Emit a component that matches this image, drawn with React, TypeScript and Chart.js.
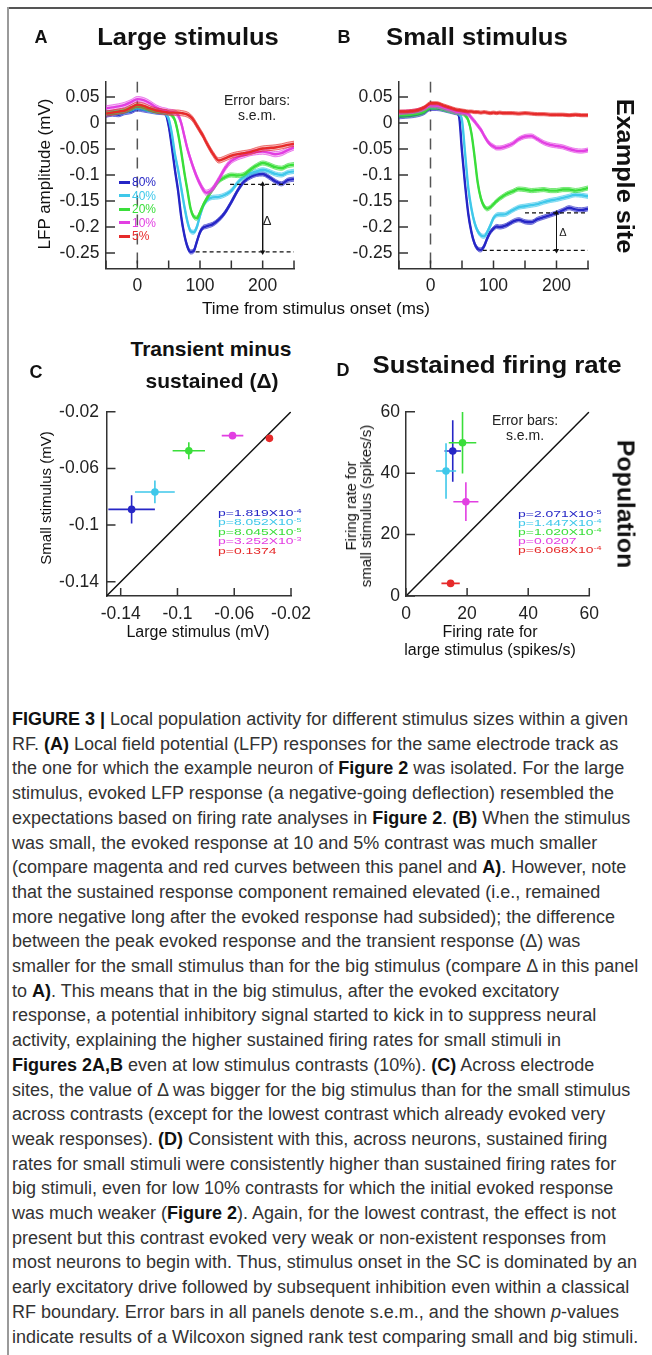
import React, { useEffect, useRef } from 'react';
import { Chart, registerables } from 'chart.js';

Chart.register(...registerables);

// ---------------- data ----------------
const TIME_MS = [-50, -40, -30, -20, -10, 0, 10, 20, 30, 40, 45, 50, 55, 60, 65, 70, 75, 80, 85, 90, 95, 100, 105, 110, 115, 120, 130, 140, 150, 160, 170, 180, 190, 200, 210, 220, 230, 240, 250];
const TIME_TICKS = [-50, 0, 50, 100, 150, 200, 250];
const TIME_LABELS = [0, 100, 200];
const LFP_TICKS = [0.05, 0, -0.05, -0.1, -0.15, -0.2, -0.25];

const CONTRASTS = ['80%', '40%', '20%', '10%', '5%'];
const COLORS = ['#2626c6', '#3fc8ea', '#3ade3a', '#e23fe2', '#e62a2a'];

// Large stimulus LFP (mV)
const LARGE_80 = [0.015, 0.017, 0.016, 0.02, 0.022, 0.027, 0.025, 0.023, 0.021, 0.02, 0.018, -0.005, -0.045, -0.09, -0.13, -0.18, -0.215, -0.238, -0.248, -0.246, -0.228, -0.21, -0.201, -0.199, -0.197, -0.195, -0.186, -0.172, -0.152, -0.13, -0.113, -0.104, -0.099, -0.098, -0.104, -0.112, -0.117, -0.11, -0.108];
const LARGE_40 = [0.018, 0.02, 0.02, 0.022, 0.026, 0.03, 0.028, 0.025, 0.022, 0.021, 0.018, 0.008, -0.02, -0.06, -0.09, -0.125, -0.16, -0.19, -0.208, -0.21, -0.2, -0.178, -0.16, -0.15, -0.145, -0.143, -0.142, -0.138, -0.13, -0.115, -0.104, -0.097, -0.093, -0.09, -0.093, -0.098, -0.1, -0.095, -0.093];
const LARGE_20 = [0.02, 0.02, 0.022, 0.024, 0.028, 0.033, 0.03, 0.026, 0.023, 0.022, 0.021, 0.02, 0.015, 0.005, -0.02, -0.055, -0.095, -0.13, -0.165, -0.18, -0.183, -0.172, -0.158, -0.147, -0.137, -0.128, -0.112, -0.104, -0.1, -0.101, -0.099, -0.09, -0.082, -0.077, -0.08, -0.085, -0.087, -0.082, -0.08];
const LARGE_10 = [0.028, 0.03, 0.032, 0.035, 0.04, 0.046, 0.044, 0.038, 0.03, 0.025, 0.024, 0.022, 0.021, 0.02, 0.015, 0.0, -0.025, -0.05, -0.07, -0.088, -0.104, -0.117, -0.128, -0.134, -0.132, -0.127, -0.108, -0.087, -0.073, -0.066, -0.062, -0.058, -0.056, -0.055, -0.057, -0.06, -0.058, -0.052, -0.047];
const LARGE_5 = [0.018, 0.02, 0.022, 0.024, 0.03, 0.035, 0.033, 0.028, 0.024, 0.022, 0.021, 0.02, 0.02, 0.02, 0.02, 0.019, 0.018, 0.016, 0.012, 0.005, -0.005, -0.015, -0.025, -0.037, -0.048, -0.058, -0.072, -0.068, -0.063, -0.06, -0.058, -0.056, -0.052, -0.049, -0.048, -0.047, -0.045, -0.042, -0.04];

// Small stimulus LFP (mV)
const SMALL_80 = [0.012, 0.013, 0.014, 0.016, 0.02, 0.028, 0.028, 0.026, 0.023, 0.02, 0.015, -0.055, -0.12, -0.175, -0.21, -0.232, -0.242, -0.244, -0.237, -0.222, -0.21, -0.203, -0.199, -0.2, -0.199, -0.197, -0.19, -0.186, -0.19, -0.191, -0.185, -0.181, -0.177, -0.173, -0.168, -0.163, -0.166, -0.167, -0.165];
const SMALL_40 = [0.02, 0.02, 0.02, 0.022, 0.026, 0.032, 0.032, 0.029, 0.025, 0.022, 0.018, 0.005, -0.06, -0.125, -0.165, -0.192, -0.208, -0.216, -0.218, -0.21, -0.197, -0.183, -0.177, -0.176, -0.176, -0.175, -0.168, -0.162, -0.16, -0.158, -0.156, -0.152, -0.149, -0.147, -0.144, -0.141, -0.138, -0.139, -0.141];
const SMALL_20 = [0.015, 0.015, 0.016, 0.018, 0.022, 0.03, 0.03, 0.027, 0.024, 0.021, 0.02, 0.019, 0.015, 0.005, -0.02, -0.065, -0.115, -0.145, -0.16, -0.165, -0.162, -0.156, -0.15, -0.145, -0.141, -0.137, -0.132, -0.127, -0.128, -0.13, -0.129, -0.128, -0.13, -0.13, -0.128, -0.128, -0.13, -0.128, -0.125];
const SMALL_10 = [0.02, 0.021, 0.022, 0.024, 0.028, 0.034, 0.033, 0.03, 0.026, 0.022, 0.021, 0.02, 0.019, 0.017, 0.01, 0.003, -0.005, -0.013, -0.024, -0.034, -0.041, -0.045, -0.048, -0.048, -0.047, -0.045, -0.04, -0.031, -0.026, -0.025, -0.031, -0.038, -0.042, -0.044, -0.046, -0.05, -0.053, -0.054, -0.052];
const SMALL_5 = [0.022, 0.022, 0.023, 0.025, 0.03, 0.038, 0.038, 0.034, 0.03, 0.026, 0.025, 0.024, 0.023, 0.022, 0.022, 0.021, 0.021, 0.02, 0.021, 0.02, 0.019, 0.02, 0.019, 0.02, 0.019, 0.019, 0.019, 0.018, 0.019, 0.018, 0.017, 0.017, 0.016, 0.016, 0.016, 0.015, 0.016, 0.015, 0.015];

const LARGE_CURVES = [LARGE_80, LARGE_40, LARGE_20, LARGE_10, LARGE_5];
const SMALL_CURVES = [SMALL_80, SMALL_40, SMALL_20, SMALL_10, SMALL_5];
const LARGE_SEM = [0.004, 0.004, 0.004, 0.005, 0.005];
const SMALL_SEM = [0.004, 0.004, 0.004, 0.004, 0.003];

// Delta annotation
const DELTA_TIME = 200;
const LARGE_PEAK = -0.248;
const LARGE_SUSTAINED = -0.118;
const LARGE_PEAK_FROM = 93;
const LARGE_SUSTAINED_FROM = 148;
const SMALL_PEAK = -0.245;
const SMALL_SUSTAINED = -0.173;
const SMALL_PEAK_FROM = 83;
const SMALL_SUSTAINED_FROM = 150;

// Panel C: transient minus sustained (mV)
const DELTA_LARGE = [-0.1323, -0.1159, -0.092, -0.0612, -0.0352];
const DELTA_SMALL = [-0.0889, -0.0766, -0.0475, -0.0369, -0.0388];
const DELTA_LARGE_ERR = [0.0164, 0.014, 0.0114, 0.0076, 0.002];
const DELTA_SMALL_ERR = [0.01, 0.008, 0.006, 0.0015, 0.001];
const DELTA_TICKS = [-0.14, -0.1, -0.06, -0.02];
const P_DELTA = [['1.819X10', '-4'], ['8.052X10', '-5'], ['8.045X10', '-5'], ['3.252X10', '-3'], ['0.1374', '']];

// Panel D: sustained firing rate (spikes/s)
const RATE_LARGE = [15.3, 13.1, 18.5, 19.6, 14.6];
const RATE_SMALL = [47.2, 40.7, 49.9, 30.7, 4.1];
const RATE_LARGE_ERR = [2.7, 3.3, 4.5, 4.1, 3.0];
const RATE_SMALL_ERR = [10, 9, 10, 6.3, 0.8];
const RATE_TICKS = [0, 20, 40, 60];
const P_RATE = [['2.071X10', '-5'], ['1.447X10', '-4'], ['1.020X10', '-4'], ['0.0207', ''], ['6.068X10', '-4']];

// Caption
const CAPTION: [string, string][][] = [
  [['FIGURE 3 |', 'b'], [' Local population activity for different stimulus sizes within a given', '']],
  [['RF. ', ''], ['(A)', 'b'], [' Local field potential (LFP) responses for the same electrode track as', '']],
  [['the one for which the example neuron of ', ''], ['Figure 2', 'b'], [' was isolated. For the large', '']],
  [['stimulus, evoked LFP response (a negative-going deflection) resembled the', '']],
  [['expectations based on firing rate analyses in ', ''], ['Figure 2', 'b'], ['. ', ''], ['(B)', 'b'], [' When the stimulus', '']],
  [['was small, the evoked response at 10 and 5% contrast was much smaller', '']],
  [['(compare magenta and red curves between this panel and ', ''], ['A)', 'b'], ['. However, note', '']],
  [['that the sustained response component remained elevated (i.e., remained', '']],
  [['more negative long after the evoked response had subsided); the difference', '']],
  [['between the peak evoked response and the transient response (\u0394) was', '']],
  [['smaller for the small stimulus than for the big stimulus (compare \u0394 in this panel', '']],
  [['to ', ''], ['A)', 'b'], ['. This means that in the big stimulus, after the evoked excitatory', '']],
  [['response, a potential inhibitory signal started to kick in to suppress neural', '']],
  [['activity, explaining the higher sustained firing rates for small stimuli in', '']],
  [['Figures 2A,B', 'b'], [' even at low stimulus contrasts (10%). ', ''], ['(C)', 'b'], [' Across electrode', '']],
  [['sites, the value of \u0394 was bigger for the big stimulus than for the small stimulus', '']],
  [['across contrasts (except for the lowest contrast which already evoked very', '']],
  [['weak responses). ', ''], ['(D)', 'b'], [' Consistent with this, across neurons, sustained firing', '']],
  [['rates for small stimuli were consistently higher than sustained firing rates for', '']],
  [['big stimuli, even for low 10% contrasts for which the initial evoked response', '']],
  [['was much weaker (', ''], ['Figure 2', 'b'], ['). Again, for the lowest contrast, the effect is not', '']],
  [['present but this contrast evoked very weak or non-existent responses from', '']],
  [['most neurons to begin with. Thus, stimulus onset in the SC is dominated by an', '']],
  [['early excitatory drive followed by subsequent inhibition even within a classical', '']],
  [['RF boundary. Error bars in all panels denote s.e.m., and the shown ', ''], ['p', 'i'], ['-values', '']],
  [['indicate results of a Wilcoxon signed rank test comparing small and big stimuli.', '']],
];

// ---------------- helpers ----------------
const FONT = '"Liberation Sans", Arial, Helvetica, sans-serif';
const TICK_FONT = { family: FONT, size: 17.5 };
const AXIS_COLOR = '#333';

function hexA(hex: string, a: number) {
  const n = parseInt(hex.slice(1), 16);
  return `rgba(${(n >> 16) & 255},${(n >> 8) & 255},${n & 255},${a})`;
}

type Rect = { left: number; top: number; width: number; height: number };
type Plot = { l: number; t: number; r: number; b: number };

function geom(c: Rect, p: Plot) {
  return {
    padding: { left: 0, top: p.t - c.top, right: c.left + c.width - p.r, bottom: 0 },
    yWidth: p.l - c.left,
    xHeight: c.top + c.height - p.b,
  };
}

const inwardTicks = {
  id: 'inwardTicks',
  afterDraw(chart: any) {
    const { ctx, chartArea } = chart;
    const sx = chart.scales.x;
    const sy = chart.scales.y;
    ctx.save();
    ctx.strokeStyle = AXIS_COLOR;
    ctx.lineWidth = 1.5;
    ctx.beginPath();
    sx.ticks.forEach((t: any) => {
      const px = sx.getPixelForValue(t.value);
      ctx.moveTo(px, chartArea.bottom);
      ctx.lineTo(px, chartArea.bottom - 8);
    });
    sy.ticks.forEach((t: any) => {
      const py = sy.getPixelForValue(t.value);
      ctx.moveTo(chartArea.left, py);
      ctx.lineTo(chartArea.left + 9, py);
    });
    ctx.stroke();
    ctx.restore();
  },
};

function errorBars(xs: number[], ys: number[], xe: number[], ye: number[]) {
  return {
    id: 'errorBars',
    beforeDatasetsDraw(chart: any) {
      const { ctx } = chart;
      const sx = chart.scales.x;
      const sy = chart.scales.y;
      ctx.save();
      ctx.lineWidth = 1.6;
      xs.forEach((x, i) => {
        ctx.strokeStyle = COLORS[i];
        ctx.beginPath();
        ctx.moveTo(sx.getPixelForValue(x - xe[i]), sy.getPixelForValue(ys[i]));
        ctx.lineTo(sx.getPixelForValue(x + xe[i]), sy.getPixelForValue(ys[i]));
        ctx.moveTo(sx.getPixelForValue(x), sy.getPixelForValue(ys[i] - ye[i]));
        ctx.lineTo(sx.getPixelForValue(x), sy.getPixelForValue(ys[i] + ye[i]));
        ctx.stroke();
      });
      ctx.restore();
    },
  };
}

function axis(min: number, max: number, ticks: number[], label: (v: number) => string, pad: number, fit: (s: any) => void) {
  return {
    type: 'linear',
    min,
    max,
    afterBuildTicks: (s: any) => {
      s.ticks = ticks.map((v) => ({ value: v }));
    },
    afterFit: fit,
    ticks: { callback: (v: any) => label(Number(v)), autoSkip: false, maxRotation: 0, padding: pad, font: TICK_FONT, color: '#222' },
    grid: { display: false, drawTicks: false },
    border: { display: true, color: AXIS_COLOR, width: 1.5 },
  };
}

function lfpConfig(curves: number[][], sems: number[], peak: number, peakFrom: number, sust: number, sustFrom: number, g: any) {
  const datasets: any[] = [];
  datasets.push({
    data: [{ x: DELTA_TIME, y: sust }, { x: DELTA_TIME, y: peak }],
    borderColor: '#111', borderWidth: 1, pointRadius: 3, pointStyle: 'triangle',
    pointRotation: (c: any) => (c.dataIndex === 0 ? 0 : 180),
    pointBackgroundColor: '#111', pointBorderWidth: 0,
  });
  datasets.push({ data: [{ x: peakFrom, y: peak }, { x: 250, y: peak }], borderColor: '#111', borderWidth: 1.2, borderDash: [4, 3], pointRadius: 0 });
  datasets.push({ data: [{ x: sustFrom, y: sust }, { x: 250, y: sust }], borderColor: '#111', borderWidth: 1.2, borderDash: [4, 3], pointRadius: 0 });
  for (let i = 4; i >= 0; i--) {
    const c = COLORS[i];
    const ys = curves[i];
    const s = sems[i];
    const common = { pointRadius: 0, cubicInterpolationMode: 'monotone' };
    datasets.push({ ...common, data: TIME_MS.map((t, k) => ({ x: t, y: ys[k] })), borderColor: c, borderWidth: 2.4 });
    datasets.push({ ...common, data: TIME_MS.map((t, k) => ({ x: t, y: ys[k] + s })), borderColor: hexA(c, 0.8), borderWidth: 0.8, fill: '+1', backgroundColor: hexA(c, 0.3) });
    datasets.push({ ...common, data: TIME_MS.map((t, k) => ({ x: t, y: ys[k] - s })), borderColor: hexA(c, 0.8), borderWidth: 0.8 });
  }
  datasets.push({ data: [{ x: 0, y: 0.08 }, { x: 0, y: -0.28 }], borderColor: '#555', borderWidth: 1.5, borderDash: [11, 8], pointRadius: 0 });
  return {
    type: 'line',
    data: { datasets },
    plugins: [inwardTicks],
    options: {
      responsive: false, animation: false, devicePixelRatio: 1,
      layout: { padding: g.padding, autoPadding: false },
      plugins: { legend: { display: false }, tooltip: { enabled: false } },
      scales: {
        x: axis(-50, 250, TIME_TICKS, (v) => (TIME_LABELS.includes(v) ? String(v) : ''), 7, (s: any) => { s.height = g.xHeight; }),
        y: axis(-0.28, 0.08, LFP_TICKS, (v) => String(v), 6.5, (s: any) => { s.width = g.yWidth; }),
      },
    },
  };
}

function scatterConfig(xs: number[], ys: number[], xe: number[], ye: number[], min: number, max: number, ticks: number[], g: any, ypad: number) {
  return {
    type: 'scatter',
    data: {
      datasets: [
        { data: xs.map((x, i) => ({ x, y: ys[i] })), pointRadius: 3.8, pointBackgroundColor: COLORS, pointBorderColor: COLORS, pointBorderWidth: 0 },
        { data: [{ x: min, y: min }, { x: max, y: max }], showLine: true, borderColor: '#111', borderWidth: 1.5, pointRadius: 0 },
      ],
    },
    plugins: [inwardTicks, errorBars(xs, ys, xe, ye)],
    options: {
      responsive: false, animation: false, devicePixelRatio: 1,
      layout: { padding: g.padding, autoPadding: false },
      plugins: { legend: { display: false }, tooltip: { enabled: false } },
      scales: {
        x: axis(min, max, ticks, (v) => String(v), 8, (s: any) => { s.height = g.xHeight; }),
        y: axis(min, max, ticks, (v) => String(v), ypad, (s: any) => { s.width = g.yWidth; }),
      },
    },
  };
}

function ChartBox({ rect, make }: { rect: Rect; make: () => any }) {
  const ref = useRef<HTMLCanvasElement>(null);
  useEffect(() => {
    if (!ref.current) return;
    const chart = new Chart(ref.current, make());
    return () => chart.destroy();
  }, []);
  return (
    <canvas
      ref={ref}
      width={rect.width}
      height={rect.height}
      style={{ position: 'absolute', left: rect.left, top: rect.top, width: rect.width, height: rect.height }}
    />
  );
}

function Txt(props: { x: number; y: number; size: number; bold?: boolean; color?: string; rot?: number; sx?: number; lh?: number; left?: boolean; children: any }) {
  const { x, y, size, bold, color, rot = 0, sx = 1, lh, left, children } = props;
  const transform = left
    ? `translateY(-50%) scaleX(${sx})`
    : `translate(-50%,-50%) rotate(${rot}deg) scaleX(${sx})`;
  return (
    <div
      style={{
        position: 'absolute', left: x, top: y, transform, transformOrigin: left ? 'left center' : 'center center',
        whiteSpace: 'nowrap', fontSize: size, fontWeight: bold ? 700 : 400, color: color || '#111',
        lineHeight: lh ? `${lh}px` : 1, textAlign: 'center', fontFamily: FONT,
      }}
    >
      {children}
    </div>
  );
}

function PValue({ base, exp }: { base: string; exp: string }) {
  return (
    <span>
      p={base}
      {exp ? <span style={{ fontSize: '0.65em', position: 'relative', top: '-0.5em' }}>{exp}</span> : null}
    </span>
  );
}

// geometry
const RECT_A: Rect = { left: 0, top: 40, width: 320, height: 280 };
const PLOT_A: Plot = { l: 106, t: 81.4, r: 294, b: 268.6 };
const RECT_B: Rect = { left: 310, top: 40, width: 310, height: 280 };
const PLOT_B: Plot = { l: 399, t: 81.4, r: 588, b: 268.6 };
const RECT_C: Rect = { left: 0, top: 370, width: 330, height: 270 };
const PLOT_C: Plot = { l: 106.5, t: 411.7, r: 291, b: 596 };
const RECT_D: Rect = { left: 320, top: 370, width: 320, height: 270 };
const PLOT_D: Plot = { l: 406, t: 411.7, r: 589.3, b: 596 };

export default function App() {
  return (
    <div style={{ position: 'absolute', left: 0, top: 0, width: 652, height: 1355, background: '#fff', overflow: 'hidden', fontFamily: FONT }}>
      <div style={{ position: 'absolute', left: 7, top: 7, width: 645, height: 2, background: '#555' }} />
      <div style={{ position: 'absolute', left: 7, top: 7, width: 1.5, height: 1348, background: '#9a9a9a' }} />

      <ChartBox rect={RECT_A} make={() => lfpConfig(LARGE_CURVES, LARGE_SEM, LARGE_PEAK, LARGE_PEAK_FROM, LARGE_SUSTAINED, LARGE_SUSTAINED_FROM, geom(RECT_A, PLOT_A))} />
      <ChartBox rect={RECT_B} make={() => lfpConfig(SMALL_CURVES, SMALL_SEM, SMALL_PEAK, SMALL_PEAK_FROM, SMALL_SUSTAINED, SMALL_SUSTAINED_FROM, geom(RECT_B, PLOT_B))} />
      <ChartBox rect={RECT_C} make={() => scatterConfig(DELTA_LARGE, DELTA_SMALL, DELTA_LARGE_ERR, DELTA_SMALL_ERR, -0.15, -0.02, DELTA_TICKS, geom(RECT_C, PLOT_C), 7.5)} />
      <ChartBox rect={RECT_D} make={() => scatterConfig(RATE_LARGE, RATE_SMALL, RATE_LARGE_ERR, RATE_SMALL_ERR, 0, 60, RATE_TICKS, geom(RECT_D, PLOT_D), 6)} />

      {/* panel A/B titles */}
      <Txt x={41} y={37} size={18} bold>A</Txt>
      <Txt x={188} y={37} size={23} bold sx={1.11}>Large stimulus</Txt>
      <Txt x={344} y={37} size={18} bold>B</Txt>
      <Txt x={477} y={37} size={23} bold sx={1.12}>Small stimulus</Txt>
      <Txt x={624} y={176} size={23} bold rot={90} sx={1.1}>Example site</Txt>
      <Txt x={44} y={174} size={17} rot={-90}>LFP amplitude (mV)</Txt>
      <Txt x={316} y={308} size={17}>Time from stimulus onset (ms)</Txt>
      <Txt x={257} y={100} size={14} color="#222">Error bars:</Txt>
      <Txt x={257} y={115} size={14} color="#222">s.e.m.</Txt>
      <Txt x={267} y={220} size={13} color="#222">{'\u0394'}</Txt>
      <Txt x={563} y={232} size={11} color="#222">{'\u0394'}</Txt>
      {CONTRASTS.map((c, i) => (
        <div key={c} style={{ position: 'absolute', left: 119, top: 182 + i * 13.6, transform: 'translateY(-50%)', display: 'flex', alignItems: 'center', fontSize: 12, lineHeight: 1, color: COLORS[i], fontFamily: FONT }}>
          <span style={{ display: 'inline-block', width: 11, height: 3, background: COLORS[i], marginRight: 2 }} />
          {c}
        </div>
      ))}

      {/* panel C/D titles */}
      <Txt x={36} y={372} size={18} bold>C</Txt>
      <Txt x={211} y={348} size={21} bold>Transient minus</Txt>
      <Txt x={212} y={380} size={21} bold>sustained ({'\u0394'})</Txt>
      <Txt x={343} y={370} size={18} bold>D</Txt>
      <Txt x={497} y={365} size={23} bold sx={1.12}>Sustained firing rate</Txt>
      <Txt x={625} y={504} size={23} bold rot={90} sx={1.08}>Population</Txt>
      <Txt x={45} y={498} size={15} rot={-90}>Small stimulus (mV)</Txt>
      <Txt x={198} y={632} size={16}>Large stimulus (mV)</Txt>
      <Txt x={358} y={506} size={15} rot={-90} lh={15}>Firing rate for<br />small stimulus (spikes/s)</Txt>
      <Txt x={490} y={641} size={16} lh={18}>Firing rate for<br />large stimulus (spikes/s)</Txt>
      <Txt x={525} y={420} size={14} color="#222">Error bars:</Txt>
      <Txt x={525} y={435} size={14} color="#222">s.e.m.</Txt>
      {P_DELTA.map((p, i) => (
        <Txt key={'pc' + i} x={218} y={512.7 + i * 9.5} size={9.6} sx={1.45} left color={COLORS[i]}>
          <PValue base={p[0]} exp={p[1]} />
        </Txt>
      ))}
      {P_RATE.map((p, i) => (
        <Txt key={'pd' + i} x={517.7} y={514.3 + i * 9} size={9.6} sx={1.45} left color={COLORS[i]}>
          <PValue base={p[0]} exp={p[1]} />
        </Txt>
      ))}

      {/* caption */}
      {CAPTION.map((line, i) => (
        <div key={'cap' + i} style={{ position: 'absolute', left: 12, top: 719 + i * 24.7 - 12, height: 24, lineHeight: '24px', fontSize: 18, color: '#333', whiteSpace: 'nowrap', fontFamily: FONT }}>
          {line.map(([t, s], k) => (
            <span key={k} style={{ fontWeight: s === 'b' ? 700 : 400, fontStyle: s === 'i' ? 'italic' : 'normal', color: s === 'b' ? '#111' : undefined }}>{t}</span>
          ))}
        </div>
      ))}
    </div>
  );
}
